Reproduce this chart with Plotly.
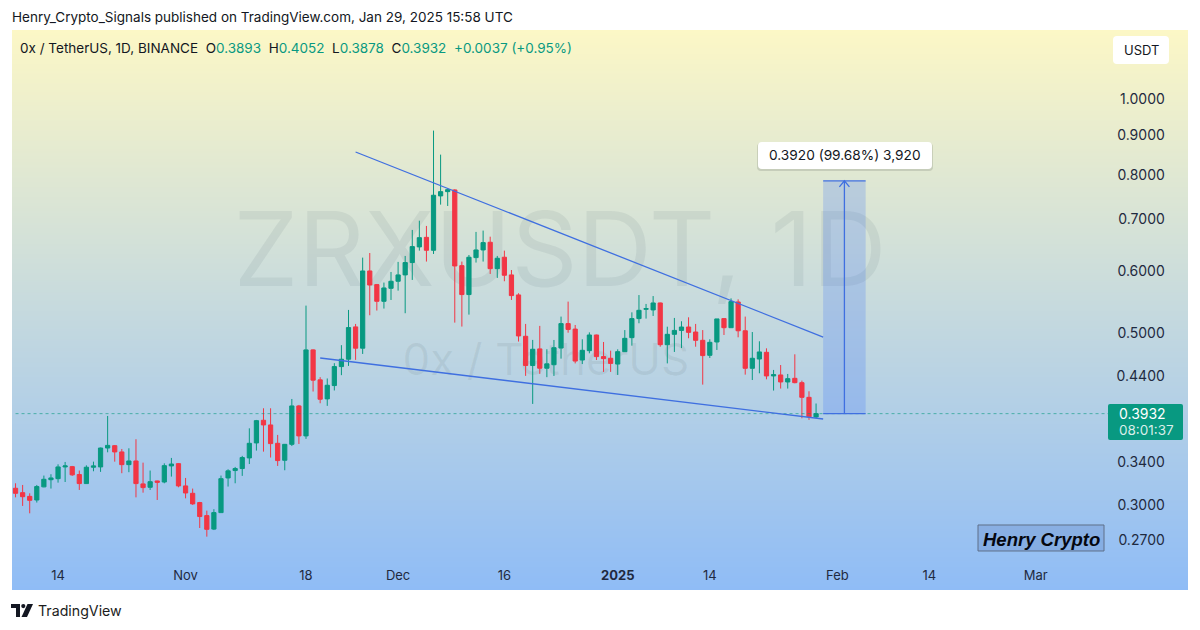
import pandas as pd
import plotly.graph_objects as go

# ZRXUSDT daily candles, first candle is 2024-10-08
opens = [
    .3150, .3109, .3075, .3042, .3163, .3231, .3241, .3356, .3359, .3281,
    .3194, .3353, .3356, .3550, .3575, .3509, .3379, .3416, .3191, .3159,
    .3219, .3209, .3366, .3389, .3172, .3103, .3019, .2904, .2790, .2930,
    .3248, .3320, .3340, .3447, .3604, .3855, .3802, .3600, .3423, .3589,
    .4023, .3680, .4752, .4347, .4108, .4274, .4522, .4622, .5088, .4776,
    .6008, .5769, .5490, .5706, .5827, .5938, .6160, .6453, .6639, .6389,
    .7509, .7605, .7643, .6104, .5601, .6251, .6395, .6543, .6049, .6258,
    .5938, .5595, .4948, .4536, .4766, .4500, .4547, .4778, .5138, .5055,
    .4611, .4741, .4967, .4658, .4635, .4556, .4727, .4928, .5215, .5361,
    .5351, .5463, .4826, .4977, .5035, .5086, .5011, .4889, .4676, .4865,
    .5215, .5076, .5479, .5030, .4499, .4625, .4718, .4398, .4411, .4320,
    .4367, .4311, .4127, .3893,
]
highs = [
    .3197, .3181, .3103, .3181, .3271, .3284, .3382, .3406, .3366, .3320,
    .3372, .3409, .3554, .3905, .3582, .3540, .3547, .3644, .3399, .3320,
    .3222, .3392, .3447, .3395, .3248, .3147, .3025, .2947, .2960, .3271,
    .3333, .3356, .3468, .3764, .3859, .3995, .3995, .3691, .3593, .4107,
    .4035, .5420, .4760, .4382, .4365, .4568, .4819, .5351, .5133, .6251,
    .6337, .5780, .5804, .5990, .6172, .6282, .6787, .6976, .6868, .9118,
    .8489, .7680, .7658, .6178, .6300, .6747, .6774, .6652, .6282, .6382,
    .6025, .5623, .5133, .4895, .5103, .4761, .4894, .5246, .5485, .5117,
    .4904, .5006, .4972, .4865, .4741, .4760, .5040, .5313, .5593, .5447,
    .5576, .5469, .5091, .5225, .5174, .5235, .5133, .5040, .4904, .5210,
    .5220, .5538, .5522, .5246, .5011, .4875, .4774, .4477, .4543, .4424,
    .4690, .4337, .4202, .4052,
]
lows = [
    .3066, .2989, .2924, .3019, .3159, .3147, .3203, .3209, .3268, .3134,
    .3191, .3313, .3307, .3505, .3409, .3294, .3304, .3066, .3109, .3134,
    .3042, .3197, .3261, .3159, .3057, .2998, .2799, .2728, .2782, .2930,
    .3166, .3197, .3268, .3385, .3523, .3512, .3451, .3366, .3323, .3571,
    .3593, .3648, .4199, .4055, .4024, .4212, .4408, .4531, .4613, .4695,
    .5267, .5341, .5373, .5512, .5667, .5299, .5850, .6382, .6178, .6319,
    .7317, .7288, .5153, .5093, .5277, .6160, .6178, .5955, .5885, .5827,
    .5512, .4871, .4399, .4047, .4425, .4382, .4398, .4630, .5001, .4565,
    .4556, .4704, .4611, .4451, .4451, .4411, .4723, .4812, .5143, .5215,
    .5256, .4797, .4565, .4723, .4778, .4919, .4797, .4286, .4639, .4751,
    .4967, .5076, .4933, .4415, .4345, .4433, .4354, .4211, .4236, .4236,
    .4303, .3878, .3860, .3878,
]
closes = [
    .3103, .3072, .3039, .3166, .3235, .3248, .3356, .3366, .3278, .3194,
    .3353, .3366, .3550, .3578, .3509, .3379, .3416, .3194, .3156, .3212,
    .3206, .3369, .3385, .3172, .3106, .3007, .2896, .2788, .2930, .3241,
    .3317, .3340, .3451, .3600, .3851, .3802, .3597, .3420, .3589, .4023,
    .3680, .4752, .4343, .4104, .4278, .4522, .4622, .5078, .4776, .6008,
    .5763, .5490, .5712, .5827, .5938, .6160, .6459, .6633, .6389, .7524,
    .7605, .7650, .6098, .5601, .6258, .6395, .6536, .6049, .6239, .5932,
    .5584, .4953, .4536, .4761, .4500, .4559, .4783, .5138, .5050, .4597,
    .4746, .4967, .4658, .4630, .4565, .4727, .4918, .5215, .5345, .5372,
    .5463, .4826, .4977, .5035, .5086, .5006, .4889, .4672, .4860, .5210,
    .5076, .5485, .5030, .4499, .4635, .4723, .4398, .4415, .4320, .4363,
    .4311, .4127, .3895, .3932,
]
dates = pd.date_range("2024-10-08", periods=len(closes), freq="D")

# drawings on the chart
upper_dates = ["2024-11-25", "2025-01-30"]
upper_prices = [0.8556, 0.4937]
lower_dates = ["2024-11-20", "2025-01-30"]
lower_prices = [0.4639, 0.3870]
target_dates = ["2025-01-30", "2025-02-05"]
arrow_date = "2025-02-02"
arrow_head_dates = ["2025-02-01 07:00", "2025-02-02", "2025-02-02 17:00"]
target_low = 0.3932
target_high = 0.7852
arrow_head_prices = [0.7713, target_high, 0.7713]
last_price = 0.3932

# axis labels
price_ticks = [0.27, 0.30, 0.34, 0.44, 0.50, 0.60, 0.70, 0.80, 0.90, 1.00]
date_ticks = ["2024-10-14", "2024-11-01", "2024-11-18", "2024-12-01", "2024-12-16",
              "2025-01-01", "2025-01-14", "2025-02-01", "2025-02-14", "2025-03-01"]
date_labels = ["14", "Nov", "18", "Dec", "16", "<b>2025</b>", "14", "Feb", "14", "Mar"]

GREEN = "#089981"
RED = "#F23645"
BLUE = "#3F6FE0"
INK = "#1f2a40"
FONT = "Inter, Liberation Sans, sans-serif"


def px(x):
    return x / 1200


def py(y):
    return 1 - y / 630


def rounded(x0, y0, x1, y1, r=3):
    # rounded box given in page pixels, for shape paths in paper coordinates
    pts = [
        f"M {px(x0 + r)} {py(y0)}", f"L {px(x1 - r)} {py(y0)}",
        f"Q {px(x1)} {py(y0)} {px(x1)} {py(y0 + r)}", f"L {px(x1)} {py(y1 - r)}",
        f"Q {px(x1)} {py(y1)} {px(x1 - r)} {py(y1)}", f"L {px(x0 + r)} {py(y1)}",
        f"Q {px(x0)} {py(y1)} {px(x0)} {py(y1 - r)}", f"L {px(x0)} {py(y0 + r)}",
        f"Q {px(x0)} {py(y0)} {px(x0 + r)} {py(y0)}", "Z",
    ]
    return " ".join(pts)


def poly(points):
    return "M " + " L ".join(f"{px(x)} {py(y)}" for x, y in points) + " Z"


def box(path, fill, line=None):
    return dict(type="path", xref="paper", yref="paper", path=path, fillcolor=fill,
                line=dict(color=line or "rgba(0,0,0,0)", width=1))


def label(x, y, text, size=13, color="#131722", anchor="left", family=FONT):
    return dict(x=px(x), y=py(y), xref="paper", yref="paper", text=text, showarrow=False,
                xanchor=anchor, yanchor="middle", align=anchor,
                font=dict(size=size, color=color, family=family))


fig = go.Figure()

# yellow to blue background, on the base axes under everything
fig.add_trace(go.Heatmap(
    z=[[0, 0], [1, 1]], x=[0, 1], y=[0, 1], zsmooth="best", showscale=False, hoverinfo="skip",
    colorscale=[[0, "#8FBCF6"], [1, "#FCF7C6"]], xaxis="x", yaxis="y",
))

# watermark sits on the base axes too so the candles stay on top of it
fig.add_trace(go.Scatter(
    x=[0.466, 0.454], y=[0.589, 0.4035], mode="text", text=["ZRXUSDT, 1D", "0x / TetherUS"],
    textfont=dict(size=[103, 44], color="rgba(70,85,95,0.09)", family=FONT),
    hoverinfo="skip", showlegend=False, xaxis="x", yaxis="y",
))

fig.add_trace(go.Scatter(
    x=[dates[0], "2025-03-22"], y=[last_price, last_price], mode="lines", hoverinfo="skip",
    line=dict(color=GREEN, width=1, dash="dot"), opacity=0.6, showlegend=False,
    xaxis="x2", yaxis="y2",
))

fig.add_trace(go.Candlestick(
    x=dates, open=opens, high=highs, low=lows, close=closes, whiskerwidth=0,
    increasing=dict(line=dict(color=GREEN, width=1), fillcolor=GREEN),
    decreasing=dict(line=dict(color=RED, width=1), fillcolor=RED),
    showlegend=False, xaxis="x2", yaxis="y2",
))

for xs, ys in [(upper_dates, upper_prices), (lower_dates, lower_prices)]:
    fig.add_trace(go.Scatter(x=xs, y=ys, mode="lines", line=dict(color=BLUE, width=1.3),
                             hoverinfo="skip", showlegend=False, xaxis="x2", yaxis="y2"))

# long position projection
fig.add_trace(go.Scatter(
    x=[target_dates[0], target_dates[1], target_dates[1], target_dates[0], target_dates[0]],
    y=[target_low, target_low, target_high, target_high, target_low],
    mode="lines", fill="toself", fillcolor="rgba(41,98,255,0.2)", line=dict(width=0),
    hoverinfo="skip", showlegend=False, xaxis="x2", yaxis="y2",
))
for level in [target_low, target_high]:
    fig.add_trace(go.Scatter(x=target_dates, y=[level, level], mode="lines",
                             line=dict(color=BLUE, width=1.3), hoverinfo="skip",
                             showlegend=False, xaxis="x2", yaxis="y2"))
for xs, ys in [([arrow_date, arrow_date], [target_low, target_high]),
               (arrow_head_dates, arrow_head_prices)]:
    fig.add_trace(go.Scatter(x=xs, y=ys, mode="lines", line=dict(color=BLUE, width=1.3),
                             hoverinfo="skip", showlegend=False, xaxis="x2", yaxis="y2"))

header = "Henry_Crypto_Signals published on TradingView.com, Jan 29, 2025 15:58 UTC"
g = f"<span style='color:{GREEN}'>"
legend = (f"0x / TetherUS, 1D, BINANCE  O{g}0.3893</span>  H{g}0.4052</span>  "
          f"L{g}0.3878</span>  C{g}0.3932</span>  {g}+0.0037 (+0.95%)</span>")

annotations = [
    label(10, 17, header, size=13.5),
    label(18, 48, legend, size=13.5),
    label(1141, 50, "USDT", size=13, anchor="center"),
    label(845, 155, "0.3920 (99.68%) 3,920", size=13.7, anchor="center"),
    label(1117, 413, "0.3932", size=14, color="white"),
    label(1117, 430, "08:01:37", size=13.5, color="rgba(255,255,255,0.85)"),
    label(1041, 539, "<b><i>Henry Crypto</i></b>", size=18.5, color="#05070f", anchor="center",
          family="Liberation Sans, sans-serif"),
    label(36, 611, "TradingView", size=14.2, color="#1c1c1c"),
]

shapes = [
    box(rounded(1113, 36, 1169, 64, 4), "white"),
    box(rounded(757, 143, 933, 171, 4), "rgba(60,70,60,0.16)"),
    box(rounded(758, 142, 932, 169, 4), "white"),
    box(rounded(1108, 404, 1183, 440, 2), GREEN),
    box("M %f %f L %f %f L %f %f L %f %f Z" % (px(978), py(525), px(1104), py(525),
                                               px(1104), py(551), px(978), py(551)),
        "rgba(90,125,190,0.28)", "#5f6f88"),
    # TradingView logo
    box(poly([(11, 604), (20, 604), (20, 617), (16, 617), (16, 608), (11, 608)]), "#131722"),
    box(poly([(27.5, 604), (33, 604), (27, 617), (21.5, 617)]), "#131722"),
    dict(type="circle", xref="paper", yref="paper", x0=px(21.2), x1=px(25.4),
         y0=py(608.2), y1=py(604), fillcolor="#131722", line=dict(width=0)),
]

fig.update_layout(
    width=1200, height=630, margin=dict(l=0, r=0, t=0, b=0), paper_bgcolor="white",
    plot_bgcolor="rgba(0,0,0,0)", showlegend=False, hovermode=False, font=dict(family=FONT),
    annotations=annotations, shapes=shapes, boxgap=0.3, boxgroupgap=0.15,
    xaxis=dict(domain=[12 / 1200, 1188 / 1200], range=[0, 1], visible=False, fixedrange=True),
    yaxis=dict(domain=[40 / 630, 600 / 630], range=[0, 1], visible=False, fixedrange=True),
    xaxis2=dict(
        overlaying="x", anchor="y2", domain=[12 / 1200, 1188 / 1200], type="date",
        range=["2024-10-07 12:00", "2025-03-22 12:00"], rangeslider=dict(visible=False),
        tickmode="array", tickvals=date_ticks, ticktext=date_labels, showgrid=False, zeroline=False,
        showline=False, ticks="inside", ticklen=7, tickcolor="rgba(0,0,0,0)",
        ticklabelposition="inside", tickfont=dict(size=13, color=INK, family=FONT),
    ),
    yaxis2=dict(
        overlaying="y", anchor="x2", side="right", domain=[40 / 630, 600 / 630], type="log",
        range=[-0.6330, 0.0897], tickmode="array", tickvals=price_ticks,
        ticktext=[f"{v:.4f}" for v in price_ticks], showgrid=False, zeroline=False, showline=False,
        ticks="inside", ticklen=23, tickcolor="rgba(0,0,0,0)", ticklabelposition="inside",
        tickfont=dict(size=14, color=INK, family=FONT),
    ),
)

fig.write_html("out.html", config={"displayModeBar": False},
               post_script="document.body.style.margin = '0';")
